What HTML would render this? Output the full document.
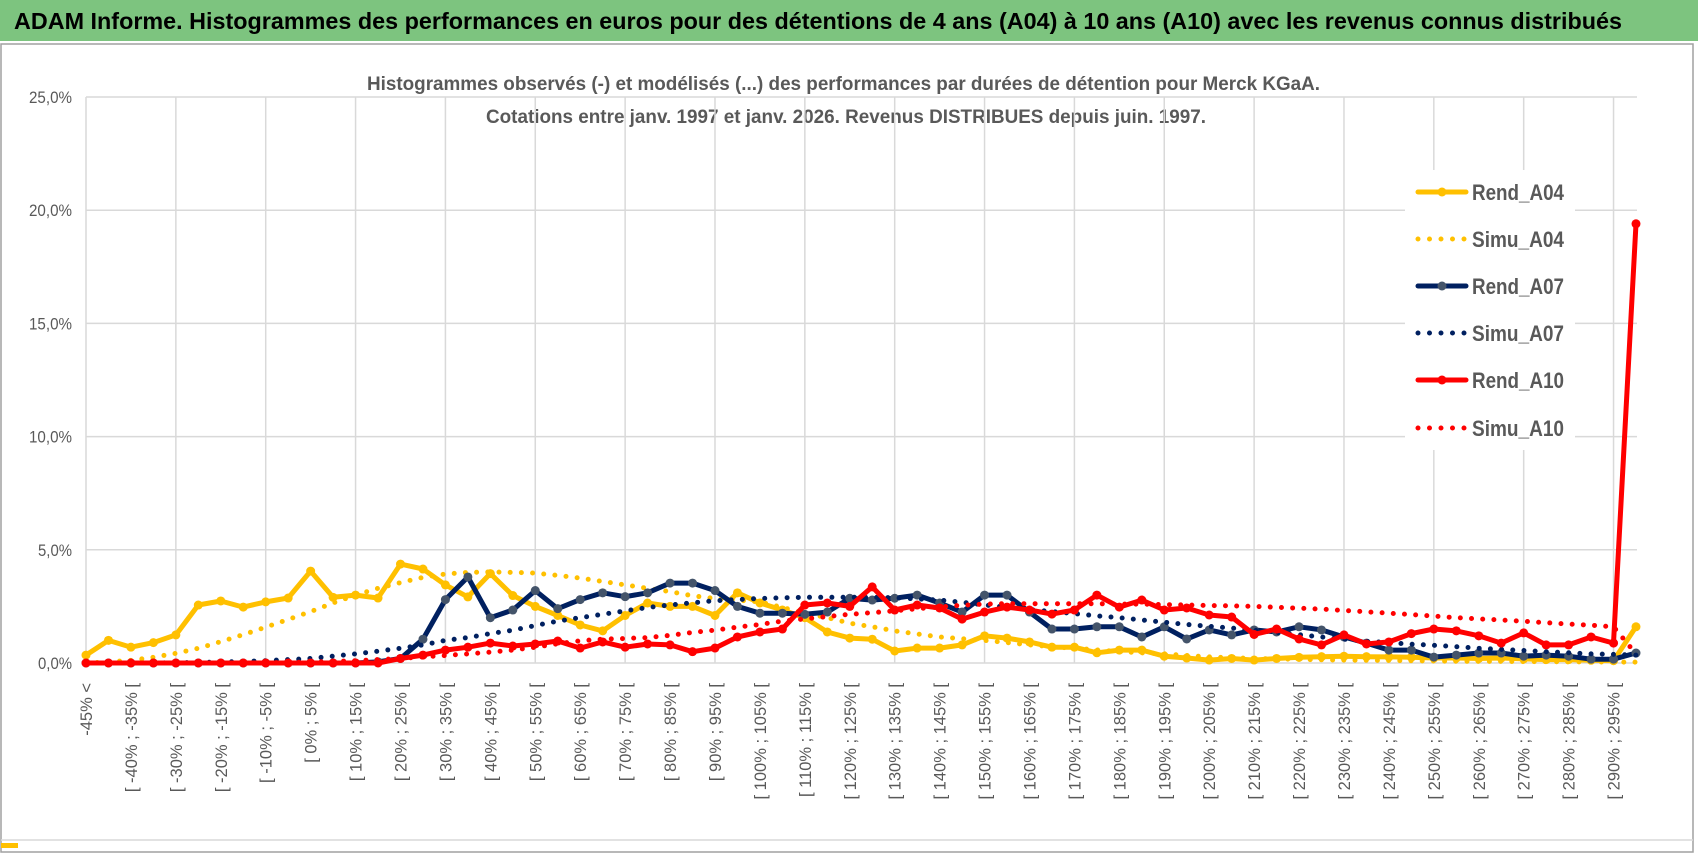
<!DOCTYPE html>
<html><head><meta charset="utf-8"><style>
html,body{margin:0;padding:0;background:#fff;}
svg{display:block;font-family:"Liberation Sans",sans-serif;}
</style></head><body>
<svg id="chart" width="1698" height="854" viewBox="0 0 1698 854" xmlns="http://www.w3.org/2000/svg">
<rect x="0" y="0" width="1698" height="854" fill="#fff"/>
<rect x="0" y="0" width="1698" height="41" fill="#7DC47F"/>
<text x="14" y="29" font-size="23" font-weight="bold" fill="#000" textLength="1608" lengthAdjust="spacingAndGlyphs">ADAM Informe. Histogrammes des performances en euros pour des détentions de 4 ans (A04) à 10 ans (A10) avec les revenus connus distribués</text>
<rect x="1" y="44" width="1692" height="808" fill="none" stroke="#a0a0a0" stroke-width="1.5"/>
<line x1="1" y1="840" x2="1693" y2="840" stroke="#d9d9d9" stroke-width="1.5"/>
<rect x="1" y="843" width="17" height="5" fill="#FFC000"/>
<text x="367" y="90" font-size="19" font-weight="bold" fill="#595959" textLength="953" lengthAdjust="spacingAndGlyphs">Histogrammes observés (-) et modélisés (...) des performances par durées de détention pour Merck KGaA.</text>
<text x="486" y="123" font-size="19" font-weight="bold" fill="#595959" textLength="720" lengthAdjust="spacingAndGlyphs">Cotations entre janv. 1997 et janv. 2026. Revenus DISTRIBUES depuis juin. 1997.</text>
<g id="grid"></g>
<g id="axes"></g>
<g id="series"></g>
<g id="legend"></g>
</svg>
<script>
const yTicks = [0,5,10,15,20,25];
const rendA04 = [0.35,1.0,0.7,0.9,1.24,2.56,2.74,2.47,2.7,2.87,4.06,2.9,3.0,2.87,4.37,4.15,3.45,2.92,3.95,2.98,2.5,2.1,1.68,1.42,2.1,2.65,2.5,2.5,2.1,3.1,2.65,2.34,2.0,1.37,1.1,1.05,0.53,0.66,0.66,0.8,1.2,1.1,0.93,0.7,0.7,0.45,0.57,0.57,0.3,0.22,0.13,0.2,0.13,0.2,0.25,0.28,0.3,0.28,0.27,0.25,0.22,0.22,0.2,0.22,0.18,0.15,0.15,0.12,0.1,1.6];
const simuA04 = [0,0.05,0.12,0.25,0.43,0.65,0.94,1.25,1.58,1.92,2.27,2.65,3.0,3.3,3.55,3.78,3.93,4.0,4.02,4.0,3.97,3.87,3.75,3.6,3.45,3.3,3.15,2.97,2.85,2.78,2.7,2.45,2.2,2.0,1.76,1.6,1.42,1.28,1.15,1.07,1.0,0.9,0.8,0.72,0.65,0.58,0.5,0.45,0.4,0.33,0.27,0.23,0.2,0.18,0.16,0.14,0.13,0.12,0.11,0.1,0.09,0.08,0.07,0.07,0.06,0.06,0.05,0.05,0.04,0.04];
const rendA07 = [0,0,0,0,0,0,0,0,0,0,0,0,0,0.05,0.2,1.05,2.8,3.8,2.0,2.34,3.2,2.4,2.8,3.1,2.93,3.1,3.53,3.53,3.2,2.5,2.2,2.2,2.15,2.25,2.86,2.78,2.86,3.0,2.65,2.25,3.0,3.0,2.25,1.5,1.5,1.6,1.6,1.15,1.6,1.06,1.46,1.24,1.46,1.37,1.6,1.46,1.15,0.88,0.57,0.57,0.26,0.35,0.44,0.44,0.3,0.35,0.3,0.17,0.17,0.44];
const simuA07 = [0,0,0,0,0.01,0.02,0.04,0.07,0.1,0.15,0.2,0.3,0.4,0.52,0.65,0.8,1.0,1.12,1.3,1.45,1.65,1.85,2.0,2.15,2.3,2.45,2.56,2.66,2.75,2.8,2.85,2.88,2.9,2.9,2.9,2.9,2.88,2.83,2.78,2.68,2.56,2.46,2.36,2.27,2.18,2.08,2.0,1.9,1.8,1.7,1.62,1.54,1.45,1.35,1.25,1.15,1.05,0.96,0.9,0.83,0.78,0.72,0.65,0.6,0.55,0.5,0.45,0.4,0.38,0.35];
const rendA10 = [0,0,0,0,0,0,0,0,0,0,0,0,0,0,0.2,0.35,0.57,0.7,0.88,0.75,0.84,0.97,0.66,0.93,0.7,0.84,0.8,0.5,0.66,1.15,1.37,1.5,2.56,2.65,2.5,3.36,2.34,2.56,2.43,1.94,2.25,2.47,2.34,2.16,2.34,3.0,2.47,2.78,2.34,2.43,2.12,2.03,1.26,1.5,1.06,0.8,1.24,0.84,0.93,1.3,1.5,1.42,1.2,0.88,1.33,0.8,0.8,1.15,0.88,19.4];
const simuA10 = [0,0,0,0,0,0,0,0,0.01,0.02,0.04,0.07,0.1,0.15,0.2,0.27,0.33,0.4,0.48,0.57,0.7,0.85,0.98,1.05,1.08,1.12,1.22,1.35,1.45,1.58,1.7,1.85,1.95,2.05,2.15,2.22,2.3,2.4,2.48,2.55,2.6,2.62,2.62,2.62,2.62,2.62,2.6,2.6,2.58,2.56,2.54,2.52,2.5,2.46,2.42,2.38,2.32,2.26,2.2,2.14,2.07,2.0,1.95,1.9,1.84,1.78,1.72,1.67,1.6,0.4];
const seriesNames = ["Rend_A04","Simu_A04","Rend_A07","Simu_A07","Rend_A10","Simu_A10"];

const NS = "http://www.w3.org/2000/svg";
const N = rendA04.length;
function catLabel(i){
  if(i===0) return "-45% <";
  if(i===N-1) return "300% >";
  const lo = -45 + 5*(i-1);
  return "[ " + lo + "% ; " + (lo+5) + "% [";
}
const X0 = 86, X1 = 1636, Y0 = 663, Y25 = 97;
function xs(i){ return X0 + (X1 - X0) * i / (N - 1); }
function ys(v){ return Y0 - (Y0 - Y25) * v / 25; }
function mk(tag, attrs, parent){
  const e = document.createElementNS(NS, tag);
  for(const k in attrs) e.setAttribute(k, attrs[k]);
  parent.appendChild(e); return e;
}
const grid = document.getElementById('grid');
const axes = document.getElementById('axes');
yTicks.forEach(t => {
  const l = mk('line', {x1:X0, x2:X1+1, y1:ys(t), y2:ys(t), stroke:'#d9d9d9', 'stroke-width':1.5}, grid);
  
  
  const label = t.toFixed(1).replace('.', ',') + '%';
  const tx = mk('text', {x:72, y:ys(t)+6, 'text-anchor':'end', 'font-size':17, fill:'#595959', textLength:(label.length===5?43:34), lengthAdjust:'spacingAndGlyphs'}, axes);
  
  
  tx.textContent = label;
});
for(let i=0;i<N;i+=4){
  const l = mk('line', {x1:xs(i), x2:xs(i), y1:Y25, y2:Y0, stroke:'#d9d9d9', 'stroke-width':1.5}, grid);
  
  
}
for(let i=0;i<N-1;i+=2){
  const tx = mk('text', {x:0, y:0, 'text-anchor':'end', 'font-size':16.5, fill:'#595959',
    transform:'translate(' + (xs(i)+6) + ',683) rotate(-90)'}, axes);
  
  
  tx.textContent = catLabel(i);
}
const seriesG = document.getElementById('series');
const styles = [
  {data:rendA04, color:'#FFC000', marker:'#FFC000', dotted:false},
  {data:simuA04, color:'#FFC000', dotted:true},
  {data:rendA07, color:'#002060', marker:'#44546A', dotted:false},
  {data:simuA07, color:'#002060', dotted:true},
  {data:rendA10, color:'#FF0000', marker:'#FF0000', dotted:false},
  {data:simuA10, color:'#FF0000', dotted:true}
];
styles.forEach((s, si) => {
  const g = mk('g', {}, seriesG);
  
  
  const pts = s.data.map((v,i) => xs(i).toFixed(1) + ',' + ys(v).toFixed(1)).join(' ');
  const attrs = {points:pts, fill:'none', stroke:s.color, 'stroke-width':5, 'stroke-linejoin':'round', 'stroke-linecap':'round'};
  if(s.dotted){ attrs['stroke-dasharray'] = '0 11.2'; }
  const pl = mk('polyline', attrs, g);
  
  
  if(!s.dotted){
    s.data.forEach((v,i) => {
      const c = mk('circle', {cx:xs(i), cy:ys(v), r:4.5, fill:s.marker}, g);
      
      
    });
  }
});
const legend = document.getElementById('legend');
const lgBg = mk('rect', {x:1405, y:170, width:170, height:280, fill:'#fff'}, legend);


const legendYs = [192, 239, 286, 333, 380, 428];
styles.forEach((s, si) => {
  const y = legendYs[si];
  const g = mk('g', {}, legend);
  
  
  if(s.dotted){
    mk('line', {x1:1418, x2:1466, y1:y, y2:y, stroke:s.color, 'stroke-width':5, 'stroke-linecap':'round', 'stroke-dasharray':'0 11.5'}, g);
  } else {
    mk('line', {x1:1418, x2:1466, y1:y, y2:y, stroke:s.color, 'stroke-width':5, 'stroke-linecap':'round'}, g);
    mk('circle', {cx:1442, cy:y, r:4.5, fill:s.marker}, g);
  }
  const t = mk('text', {x:1472, y:y+8, 'font-size':22, 'font-weight':'bold', fill:'#595959', textLength:92, lengthAdjust:'spacingAndGlyphs'}, g);
  
  
  t.textContent = seriesNames[si];
});
</script>
</body></html>
